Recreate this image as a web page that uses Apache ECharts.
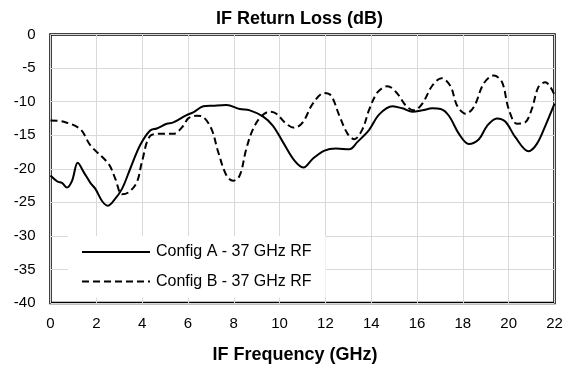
<!DOCTYPE html>
<html>
<head>
<meta charset="utf-8">
<script src="https://cdn.jsdelivr.net/npm/echarts@6/dist/echarts.min.js"></script>
<style>
  html, body { margin: 0; padding: 0; background: #fff; }
  #chart { width: 573px; height: 369px; }
</style>
</head>
<body>
<div id="chart"></div>
<script>
// Return loss of the IF port versus IF frequency, two configurations
const seriesNames = ['Config A - 37 GHz RF', 'Config B - 37 GHz RF'];

const configAFreq = [0, 0.3, 0.5, 0.72, 0.94, 1.19, 1.45, 1.74, 1.96, 2.25, 2.5, 2.75, 3.12, 3.48, 3.91,
  4.35, 4.64, 5.07, 5.36, 5.94, 6.23, 6.67, 7.1, 7.68, 8.26, 8.7, 9.27, 9.71, 10.14, 10.65, 11.04,
  11.45, 11.96, 12.46, 13.04, 13.4, 13.91, 14.35, 14.93, 15.36, 15.8, 16.23, 16.67, 17.03, 17.39,
  17.83, 18.26, 18.7, 19.06, 19.49, 19.86, 20.29, 20.87, 21.23, 21.6, 22];
const configALoss = [-21.0, -21.9, -22.1, -22.8, -21.8, -19.1, -20.5, -22.1, -23.0, -24.8, -25.5, -24.8, -23.0, -20.0, -16.5,
  -14.3, -14.0, -13.3, -13.1, -12.0, -11.6, -10.7, -10.6, -10.5, -11.1, -11.3, -12.2, -13.6, -16.0, -18.8, -19.8,
  -18.5, -17.3, -17.0, -17.1, -16.0, -14.2, -11.9, -10.7, -11.0, -11.5, -11.3, -11.0, -11.1, -12.1,
  -14.8, -16.3, -15.6, -13.6, -12.5, -13.0, -15.3, -17.4, -16.3, -13.6, -10.3];

const configBFreq = [0, 0.58, 1.3, 1.74, 2.54, 2.83, 3.12, 3.41, 3.77, 3.99, 4.35, 4.78, 5.36, 5.8, 6.01,
  6.38, 6.67, 7.03, 7.32, 7.68, 7.97, 8.26, 8.55, 8.84, 9.2, 9.57, 9.86, 10.29, 10.65, 11.01, 11.45,
  11.96, 12.25, 12.61, 12.97, 13.26, 13.62, 13.91, 14.28, 14.71, 15.14, 15.51, 15.87, 16.23, 16.67,
  17.07, 17.46, 17.75, 18.12, 18.48, 18.91, 19.35, 19.71, 20.0, 20.36, 20.72, 21.01, 21.3, 21.6, 22];
const configBLoss = [-12.8, -13.0, -14.1, -16.5, -19.3, -21.5, -23.8, -23.5, -22.0, -19.0, -15.1, -14.8, -14.8, -13.6, -12.5,
  -12.1, -12.3, -14.1, -17.5, -21.0, -21.8, -21.0, -17.0, -14.1, -12.2, -11.5, -11.8, -13.3, -13.9, -13.1, -10.3,
  -8.7, -9.1, -12.1, -14.8, -15.6, -14.1, -11.2, -8.6, -7.7, -8.8, -10.6, -11.3, -10.3, -7.6,
  -6.5, -7.7, -10.6, -11.8, -10.8, -7.3, -6.1, -7.1, -11.1, -13.3, -13.1, -11.1, -7.8, -7.1, -9.0];

const xTicks = { min: 0, max: 22, step: 2 };
const yTicks = { min: -40, max: 0, step: 5 };

const pairs = (xs, ys) => xs.map((x, i) => [x, ys[i]]);
const FONT = '"Liberation Sans", Arial, sans-serif';

const chart = echarts.init(document.getElementById('chart'), null, { renderer: 'canvas' });
chart.setOption({
  animation: false,
  backgroundColor: '#fff',
  title: {
    text: 'IF Return Loss (dB)',
    left: 299.5,
    top: 10,
    padding: 0,
    textAlign: 'center',
    textStyle: { fontFamily: FONT, fontSize: 18, fontWeight: 'bold', color: '#000' }
  },
  grid: {
    left: 50.5, top: 34.5, width: 504, height: 268.5,
    outerBoundsMode: 'none',
    containLabel: false,
    show: true, borderColor: '#000', borderWidth: 2.5, backgroundColor: 'transparent'
  },
  legend: {
    orient: 'vertical',
    left: 68, top: 236,
    padding: [8, 14, 8, 13],
    backgroundColor: '#fff',
    itemWidth: 68, itemHeight: 10, itemGap: 13.5,
    itemStyle: { opacity: 0 },
    textStyle: { fontFamily: FONT, fontSize: 16, color: '#000', padding: [0, 0, 0, 1] },
    data: seriesNames
  },
  xAxis: {
    type: 'value',
    min: xTicks.min, max: xTicks.max, interval: xTicks.step,
    name: 'IF Frequency (GHz)',
    nameLocation: 'middle',
    nameGap: 43,
    nameTextStyle: { fontFamily: FONT, fontSize: 18, fontWeight: 'bold', color: '#000', padding: [0, 15, 0, 0] },
    axisLine: { show: false },
    axisTick: { show: false },
    axisLabel: { fontFamily: FONT, fontSize: 15, color: '#000', margin: 13 },
    splitLine: { show: true, lineStyle: { color: '#d9d9d9', width: 1 } }
  },
  yAxis: {
    type: 'value',
    min: yTicks.min, max: yTicks.max, interval: yTicks.step,
    axisLine: { show: false },
    axisTick: { show: false },
    axisLabel: { fontFamily: FONT, fontSize: 15, color: '#000', margin: 15 },
    splitLine: { show: true, lineStyle: { color: '#d9d9d9', width: 1 } }
  },
  series: [
    {
      name: seriesNames[0],
      type: 'line',
      data: pairs(configAFreq, configALoss),
      smooth: 0.35,
      showSymbol: false,
      symbol: 'none',
      lineStyle: { color: '#000', width: 2, type: 'solid' },
      itemStyle: { color: '#000' },
      z: 3
    },
    {
      name: seriesNames[1],
      type: 'line',
      data: pairs(configBFreq, configBLoss),
      smooth: 0.35,
      showSymbol: false,
      symbol: 'none',
      lineStyle: { color: '#000', width: 2, type: [7, 4] },
      itemStyle: { color: '#000' },
      z: 3
    }
  ]
});
</script>
</body>
</html>
